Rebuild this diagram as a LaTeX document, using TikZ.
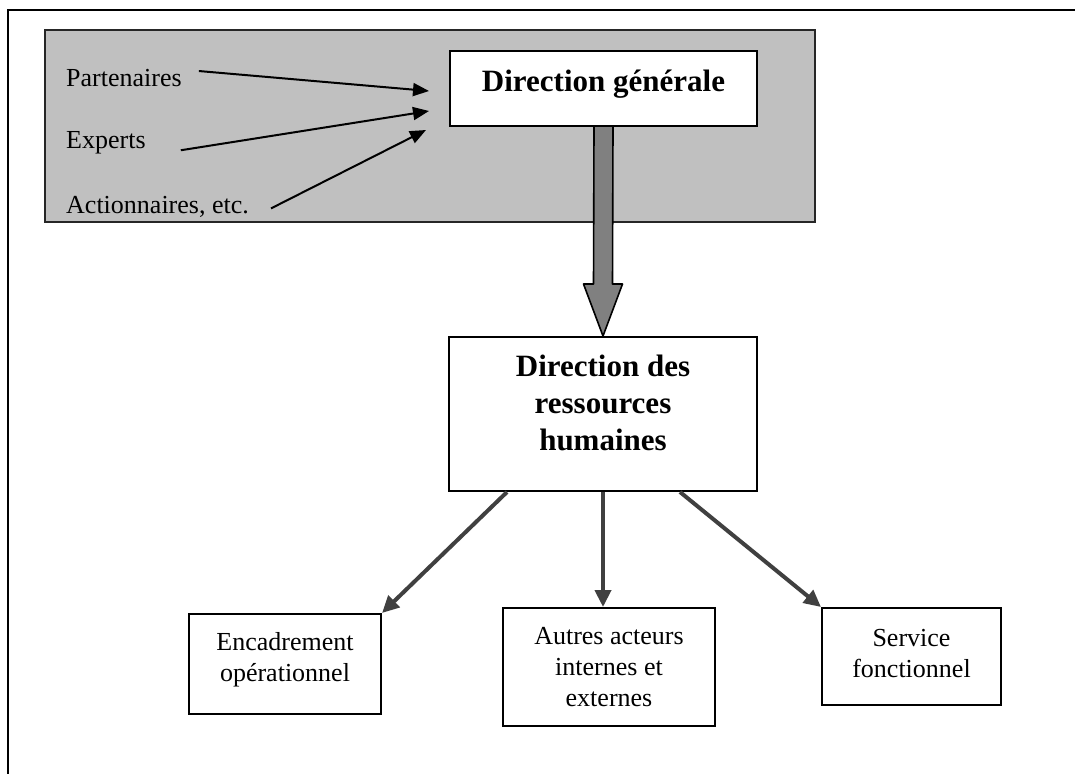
\documentclass[tikz,border=0pt]{standalone}
\usepackage{fontspec}
\setmainfont{Liberation Serif}
\usetikzlibrary{arrows.meta,calc}

\definecolor{fond}{HTML}{C0C0C0}
\definecolor{fleche}{HTML}{808080}
\definecolor{gristrait}{HTML}{404040}

\begin{document}
\begin{tikzpicture}[x=1pt,y=1pt,
    boite/.style={draw=black,line width=2pt,fill=white,align=center,inner sep=0pt,
      font=\fontsize{26}{31}\selectfont},
    titre/.style={boite,font=\fontsize{31}{37}\selectfont\bfseries},
    acteur/.style={anchor=base west,inner sep=0pt,font=\fontsize{26}{31}\selectfont},
    influence/.style={-{Triangle[length=16pt,width=13pt]},line width=2pt,draw=black},
    lien/.style={-{Triangle[length=17pt,width=16pt]},line width=4pt,draw=gristrait},
    grossefleche/.style={fill=fleche,draw=black,line width=1.6pt,line join=round}
  ]
      \useasboundingbox (0,0) rectangle (1075,-774);
      % cadre : seulement le haut et la gauche
      \draw[line width=2.4pt] (1075,-10) -- (8,-10) -- (8,-774);
      % zone grise de la direction generale
      \draw[fill=fond,draw=black!85,line width=1.6pt] (45,-30) rectangle (815,-222);

      \node[titre,minimum width=307pt,minimum height=75pt,text depth=15pt]
        (dg) at (603.5,-88.5) {Direction générale};
      \node[acteur] (part) at (66,-86) {Partenaires};
      \node[acteur] (exp) at (66,-148) {Experts};
      \node[acteur] (act) at (66,-213) {Actionnaires, etc.};

      \node[titre,minimum width=308pt,minimum height=154pt,text depth=22pt]
        (drh) at (603,-414) {Direction des\\ressources\\humaines};

      \node[boite,minimum width=192pt,minimum height=100pt,text depth=14pt]
        (enc) at (285,-664) {Encadrement\\opérationnel};
      \node[boite,minimum width=212pt,minimum height=118pt]
        (autres) at (609,-667) {Autres acteurs\\internes et\\externes};
      \node[boite,minimum width=179pt,minimum height=97pt,text depth=6pt]
        (serv) at (911.5,-656.5) {Service\\fonctionnel};

      % influences sur la direction generale
      \draw[influence] ($(part.east)+(17,6.5)$) -- ($(dg.west)+(-20,-2.5)$);
      \draw[influence] ($(exp.east)+(35,-8)$) -- ($(dg.west)+(-20,-22.5)$);
      \draw[influence] ($(act.east)+(22,-2)$) -- ($(dg.west)+(-23,-41.5)$);

      % grosse fleche DG -> DRH
      \draw[grossefleche] ($(dg.south)+(-9.5,0)$) -- ($(drh.north)+(-9.5,52)$)
        -- ($(drh.north)+(-19.5,52)$) -- (drh.north) -- ($(drh.north)+(19.5,52)$)
        -- ($(drh.north)+(9.5,52)$) -- ($(dg.south)+(9.5,0)$);

      % la DRH vers les acteurs
      \draw[lien] ($(drh.south)+(-96,0)$) -- (enc.north east);
      \draw[lien] (drh.south) -- (drh.south |- autres.north);
      \draw[lien] ($(drh.south)+(77,0)$) -- (serv.north west);
    \end{tikzpicture}
\end{document}
